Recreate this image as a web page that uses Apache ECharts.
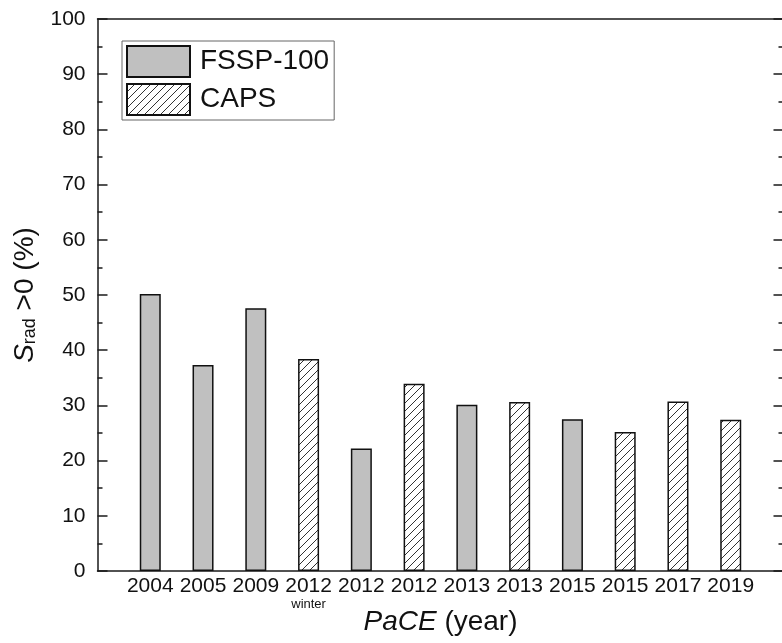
<!DOCTYPE html>
<html><head><meta charset="utf-8">
<script src="https://cdn.jsdelivr.net/npm/echarts@6/dist/echarts.min.js"></script>
<style>html,body{margin:0;padding:0;background:#fff}#c{width:782px;height:643px}</style>
</head><body><div id="c"></div>
<script>
const categories = ['2004','2005','2009','2012','2012','2012','2013','2013','2015','2015','2017','2019'];
const subLabels  = ['','','','winter','','','','','','','',''];
const fsspValues = [50.2, 37.3, 47.6, null, 22.2, null, 30.1, null, 27.5, null, null, null];
const capsValues = [null, null, null, 38.4, null, 33.9, null, 30.6, null, 25.2, 30.7, 27.4];
const yTicks = [0,10,20,30,40,50,60,70,80,90,100];

const FONT = "'Liberation Sans', Arial, sans-serif";

function hatch(){
  const c = document.createElement('canvas');
  c.width = 8; c.height = 8;
  const g = c.getContext('2d');
  g.fillStyle = '#fff'; g.fillRect(0,0,8,8);
  g.strokeStyle = '#333'; g.lineWidth = 1;
  g.beginPath();
  g.moveTo(0,8); g.lineTo(8,0);
  g.moveTo(-1,1); g.lineTo(1,-1);
  g.moveTo(7,9); g.lineTo(9,7);
  g.stroke();
  return c;
}

const toPairs = arr => arr.map((v,i)=> v==null ? null : [i+1, v]).filter(d=>d);

const chart = echarts.init(document.getElementById('c'), null, {renderer:'canvas'});
const axisLine = {show:true, onZero:false, lineStyle:{color:'#1a1a1a', width:1.5}};
chart.setOption({
  animation:false,
  textStyle:{fontFamily:FONT},
  grid:{left:97.5, top:19, width:686, height:552, containLabel:false, outerBoundsMode:'none'},
  legend:{
    orient:'vertical', left:122, top:41,
    padding:[4,5,4,4], itemGap:5, itemWidth:63, itemHeight:31,
    borderColor:'#666', borderWidth:1,
    textStyle:{fontSize:28, color:'#111', fontFamily:FONT, padding:[0,0,0,5]},
    icon:'rect',
    data:['FSSP-100','CAPS']
  },
  xAxis:[{
    type:'value', min:0, max:categories.length+1, interval:1, position:'bottom',
    axisLine:axisLine, axisTick:{show:false}, splitLine:{show:false},
    axisLabel:{
      margin:4, color:'#111', fontSize:21, fontFamily:FONT,
      showMinLabel:false, showMaxLabel:false,
      formatter:v=>{
        const i = Math.round(v)-1;
        if(i<0||i>=categories.length) return '';
        return subLabels[i] ? '{a|'+categories[i]+'}\n{w|'+subLabels[i]+'}' : '{a|'+categories[i]+'}';
      },
      rich:{a:{fontSize:21, lineHeight:22, color:'#111', fontFamily:FONT}, w:{fontSize:13, lineHeight:14, color:'#111', fontFamily:FONT}}
    },
    name:'{i|PaCE} (year)', nameLocation:'middle', nameGap:37, nameMoveOverlap:false,
    nameTextStyle:{fontSize:28, color:'#111', fontFamily:FONT,
      rich:{i:{fontSize:28, fontStyle:'italic', color:'#111', fontFamily:FONT}}}
  },{
    type:'value', min:0, max:categories.length+1, position:'top',
    axisLine:axisLine, axisTick:{show:false}, axisLabel:{show:false}, splitLine:{show:false}
  }],
  yAxis:[{
    type:'value', min:yTicks[0], max:yTicks[yTicks.length-1], interval:10, position:'left',
    axisLine:axisLine, splitLine:{show:false},
    axisTick:{show:true, inside:true, length:10, lineStyle:{color:'#1a1a1a', width:1.5}},
    minorTick:{show:true, splitNumber:2, length:5, lineStyle:{color:'#1a1a1a', width:1.5}},
    axisLabel:{margin:12, color:'#111', fontSize:21, fontFamily:FONT},
    name:'{s|S}{b|rad}{n| >0 (%)}', nameLocation:'middle', nameGap:58, nameRotate:90,
    nameTextStyle:{fontSize:28, color:'#111', fontFamily:FONT,
      rich:{
        s:{fontSize:28, fontStyle:'italic', color:'#111', fontFamily:FONT},
        b:{fontSize:18, color:'#111', fontFamily:FONT, verticalAlign:'bottom', padding:[9,0,0,0]},
        n:{fontSize:28, color:'#111', fontFamily:FONT}
      }}
  },{
    type:'value', min:yTicks[0], max:yTicks[yTicks.length-1], interval:10, position:'right',
    axisLine:axisLine, splitLine:{show:false}, axisLabel:{show:false},
    axisTick:{show:true, inside:true, length:10, lineStyle:{color:'#1a1a1a', width:1.5}},
    minorTick:{show:true, splitNumber:2, length:5, lineStyle:{color:'#1a1a1a', width:1.5}}
  }],
  series:[{
    name:'FSSP-100', type:'bar', xAxisIndex:0, yAxisIndex:0, barWidth:21, barGap:'-100%',
    itemStyle:{color:'#c0c0c0', borderColor:'#111', borderWidth:1.5},
    data:toPairs(fsspValues)
  },{
    name:'CAPS', type:'bar', xAxisIndex:0, yAxisIndex:0, barWidth:21, barGap:'-100%',
    itemStyle:{color:{image:hatch(), repeat:'repeat'}, borderColor:'#111', borderWidth:1.5},
    data:toPairs(capsValues)
  }]
});
</script></body></html>
